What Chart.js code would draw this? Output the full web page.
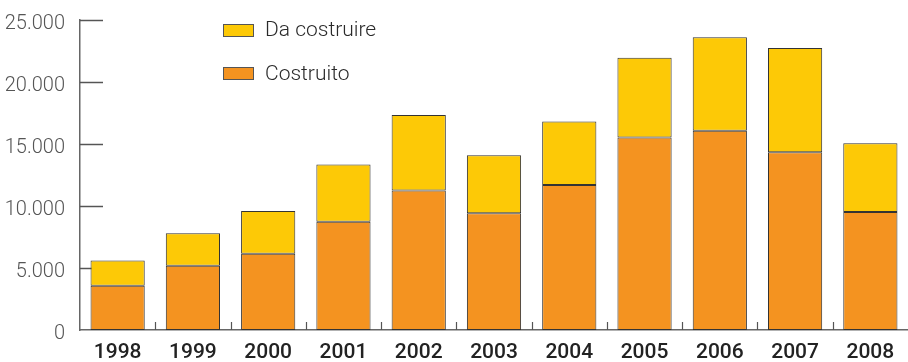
<!DOCTYPE html>
<html>
<head>
<meta charset="utf-8">
<script src="https://cdn.jsdelivr.net/npm/chart.js@4"></script>
<style>
  html, body { margin: 0; padding: 0; background: #fff; }
  #wrap { position: relative; width: 908px; height: 362px; overflow: hidden; }
  canvas { display: block; }
  .leg { position: absolute; left: 223px; font-family: Roboto, sans-serif; font-weight: 300; font-size: 21px; color: #2a2a2a; white-space: nowrap; }
  .leg span.box { position: absolute; left: 0; width: 29px; height: 11px; border: 1px solid #555; }
  .leg span.txt { position: absolute; left: 42px; }
</style>
</head>
<body>
<div id="wrap">
  <canvas id="c" width="908" height="362"></canvas>
  <div class="leg" style="top:17px"><span class="box" style="top:7px;background:#FDC906"></span><span class="txt">Da costruire</span></div>
  <div class="leg" style="top:61px"><span class="box" style="top:6px;background:#F49320"></span><span class="txt">Costruito</span></div>
</div>
<script>
const years = ['1998','1999','2000','2001','2002','2003','2004','2005','2006','2007','2008'];
const costruito = [3560, 5170, 6130, 8710, 11230, 9410, 11680, 15490, 16050, 14310, 9510];
const daCostruire = [2040, 2610, 3460, 4610, 6080, 4660, 5100, 6430, 7530, 8390, 5520];
const yTickValues = [0, 5000, 10000, 15000, 20000, 25000];
const yTickLabels = ['0', '5.000', '10.000', '15.000', '20.000', '25.000'];

const marks = {
  id: 'marks',
  beforeDatasetsDraw(chart) {
    const ctx = chart.ctx;
    const x = chart.scales.x, y = chart.scales.y;
    const left = chart.chartArea.left, bottom = chart.chartArea.bottom;
    ctx.save();
    ctx.strokeStyle = '#555';
    ctx.lineWidth = 1.5;
    yTickValues.forEach(v => {
      if (v === 0) return;
      const py = Math.round(y.getPixelForValue(v)) + 0.5;
      ctx.beginPath(); ctx.moveTo(left, py); ctx.lineTo(left + 23, py); ctx.stroke();
    });
    ctx.lineWidth = 1.2;
    for (let i = 0; i < years.length - 1; i++) {
      const px = Math.round((x.getPixelForValue(i) + x.getPixelForValue(i + 1)) / 2) + 0.5;
      ctx.beginPath(); ctx.moveTo(px, bottom); ctx.lineTo(px, bottom - 8); ctx.stroke();
    }
    ctx.restore();
  }
};

new Chart(document.getElementById('c'), {
  type: 'bar',
  data: {
    labels: years,
    datasets: [
      { label: 'Costruito', data: costruito, backgroundColor: '#F49320', borderColor: '#333', borderWidth: 1, borderSkipped: false },
      { label: 'Da costruire', data: daCostruire, backgroundColor: '#FDC906', borderColor: '#333', borderWidth: 1, borderSkipped: false }
    ]
  },
  options: {
    responsive: false,
    animation: false,
    layout: { padding: { top: 19.5, right: -8, left: 0, bottom: 0 } },
    plugins: { legend: { display: false }, tooltip: { enabled: false } },
    datasets: { bar: { categoryPercentage: 1, barPercentage: 0.72 } },
    scales: {
      x: {
        stacked: true,
        grid: { display: false, drawTicks: false },
        border: { display: true, color: '#666', width: 1.5 },
        ticks: { color: '#222', font: { family: 'Roboto', size: 21, weight: 500 }, padding: 10 },
        afterFit(s) { s.height = 32; s.paddingLeft = 0; s.paddingRight = 0; }
      },
      y: {
        stacked: true,
        min: 0, max: 25000,
        afterBuildTicks(s) { s.ticks = yTickValues.map(v => ({ value: v })); },
        grid: { display: false, drawTicks: false },
        border: { display: true, color: '#666', width: 1.5 },
        ticks: {
          color: '#555', font: { family: 'Roboto', size: 20, weight: 300 }, padding: 15, labelOffset: 4,
          callback(v) { const i = yTickValues.indexOf(v); return i >= 0 ? yTickLabels[i] : ''; }
        },
        afterFit(s) { s.width = 80; s.paddingTop = 0; s.paddingBottom = 0; }
      }
    }
  },
  plugins: [marks]
});
</script>
</body>
</html>
